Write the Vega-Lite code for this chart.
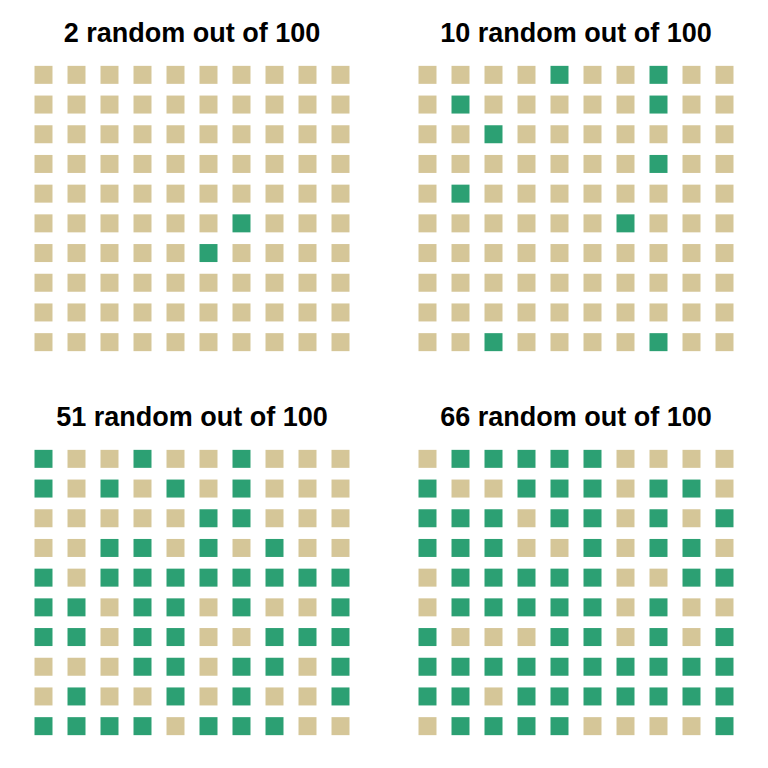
{
  "$schema": "https://vega.github.io/schema/vega-lite/v6.json",
  "padding": {"left": 27, "top": 20, "right": 0, "bottom": 0},
  "background": "white",
  "data": {"values": [
{"n":2,"r":1,"c":1,"s":0},{"n":2,"r":1,"c":2,"s":0},{"n":2,"r":1,"c":3,"s":0},{"n":2,"r":1,"c":4,"s":0},{"n":2,"r":1,"c":5,"s":0},{"n":2,"r":1,"c":6,"s":0},{"n":2,"r":1,"c":7,"s":0},{"n":2,"r":1,"c":8,"s":0},{"n":2,"r":1,"c":9,"s":0},{"n":2,"r":1,"c":10,"s":0},
{"n":2,"r":2,"c":1,"s":0},{"n":2,"r":2,"c":2,"s":0},{"n":2,"r":2,"c":3,"s":0},{"n":2,"r":2,"c":4,"s":0},{"n":2,"r":2,"c":5,"s":0},{"n":2,"r":2,"c":6,"s":0},{"n":2,"r":2,"c":7,"s":0},{"n":2,"r":2,"c":8,"s":0},{"n":2,"r":2,"c":9,"s":0},{"n":2,"r":2,"c":10,"s":0},
{"n":2,"r":3,"c":1,"s":0},{"n":2,"r":3,"c":2,"s":0},{"n":2,"r":3,"c":3,"s":0},{"n":2,"r":3,"c":4,"s":0},{"n":2,"r":3,"c":5,"s":0},{"n":2,"r":3,"c":6,"s":0},{"n":2,"r":3,"c":7,"s":0},{"n":2,"r":3,"c":8,"s":0},{"n":2,"r":3,"c":9,"s":0},{"n":2,"r":3,"c":10,"s":0},
{"n":2,"r":4,"c":1,"s":0},{"n":2,"r":4,"c":2,"s":0},{"n":2,"r":4,"c":3,"s":0},{"n":2,"r":4,"c":4,"s":0},{"n":2,"r":4,"c":5,"s":0},{"n":2,"r":4,"c":6,"s":0},{"n":2,"r":4,"c":7,"s":0},{"n":2,"r":4,"c":8,"s":0},{"n":2,"r":4,"c":9,"s":0},{"n":2,"r":4,"c":10,"s":0},
{"n":2,"r":5,"c":1,"s":0},{"n":2,"r":5,"c":2,"s":0},{"n":2,"r":5,"c":3,"s":0},{"n":2,"r":5,"c":4,"s":0},{"n":2,"r":5,"c":5,"s":0},{"n":2,"r":5,"c":6,"s":0},{"n":2,"r":5,"c":7,"s":0},{"n":2,"r":5,"c":8,"s":0},{"n":2,"r":5,"c":9,"s":0},{"n":2,"r":5,"c":10,"s":0},
{"n":2,"r":6,"c":1,"s":0},{"n":2,"r":6,"c":2,"s":0},{"n":2,"r":6,"c":3,"s":0},{"n":2,"r":6,"c":4,"s":0},{"n":2,"r":6,"c":5,"s":0},{"n":2,"r":6,"c":6,"s":0},{"n":2,"r":6,"c":7,"s":1},{"n":2,"r":6,"c":8,"s":0},{"n":2,"r":6,"c":9,"s":0},{"n":2,"r":6,"c":10,"s":0},
{"n":2,"r":7,"c":1,"s":0},{"n":2,"r":7,"c":2,"s":0},{"n":2,"r":7,"c":3,"s":0},{"n":2,"r":7,"c":4,"s":0},{"n":2,"r":7,"c":5,"s":0},{"n":2,"r":7,"c":6,"s":1},{"n":2,"r":7,"c":7,"s":0},{"n":2,"r":7,"c":8,"s":0},{"n":2,"r":7,"c":9,"s":0},{"n":2,"r":7,"c":10,"s":0},
{"n":2,"r":8,"c":1,"s":0},{"n":2,"r":8,"c":2,"s":0},{"n":2,"r":8,"c":3,"s":0},{"n":2,"r":8,"c":4,"s":0},{"n":2,"r":8,"c":5,"s":0},{"n":2,"r":8,"c":6,"s":0},{"n":2,"r":8,"c":7,"s":0},{"n":2,"r":8,"c":8,"s":0},{"n":2,"r":8,"c":9,"s":0},{"n":2,"r":8,"c":10,"s":0},
{"n":2,"r":9,"c":1,"s":0},{"n":2,"r":9,"c":2,"s":0},{"n":2,"r":9,"c":3,"s":0},{"n":2,"r":9,"c":4,"s":0},{"n":2,"r":9,"c":5,"s":0},{"n":2,"r":9,"c":6,"s":0},{"n":2,"r":9,"c":7,"s":0},{"n":2,"r":9,"c":8,"s":0},{"n":2,"r":9,"c":9,"s":0},{"n":2,"r":9,"c":10,"s":0},
{"n":2,"r":10,"c":1,"s":0},{"n":2,"r":10,"c":2,"s":0},{"n":2,"r":10,"c":3,"s":0},{"n":2,"r":10,"c":4,"s":0},{"n":2,"r":10,"c":5,"s":0},{"n":2,"r":10,"c":6,"s":0},{"n":2,"r":10,"c":7,"s":0},{"n":2,"r":10,"c":8,"s":0},{"n":2,"r":10,"c":9,"s":0},{"n":2,"r":10,"c":10,"s":0},
{"n":10,"r":1,"c":1,"s":0},{"n":10,"r":1,"c":2,"s":0},{"n":10,"r":1,"c":3,"s":0},{"n":10,"r":1,"c":4,"s":0},{"n":10,"r":1,"c":5,"s":1},{"n":10,"r":1,"c":6,"s":0},{"n":10,"r":1,"c":7,"s":0},{"n":10,"r":1,"c":8,"s":1},{"n":10,"r":1,"c":9,"s":0},{"n":10,"r":1,"c":10,"s":0},
{"n":10,"r":2,"c":1,"s":0},{"n":10,"r":2,"c":2,"s":1},{"n":10,"r":2,"c":3,"s":0},{"n":10,"r":2,"c":4,"s":0},{"n":10,"r":2,"c":5,"s":0},{"n":10,"r":2,"c":6,"s":0},{"n":10,"r":2,"c":7,"s":0},{"n":10,"r":2,"c":8,"s":1},{"n":10,"r":2,"c":9,"s":0},{"n":10,"r":2,"c":10,"s":0},
{"n":10,"r":3,"c":1,"s":0},{"n":10,"r":3,"c":2,"s":0},{"n":10,"r":3,"c":3,"s":1},{"n":10,"r":3,"c":4,"s":0},{"n":10,"r":3,"c":5,"s":0},{"n":10,"r":3,"c":6,"s":0},{"n":10,"r":3,"c":7,"s":0},{"n":10,"r":3,"c":8,"s":0},{"n":10,"r":3,"c":9,"s":0},{"n":10,"r":3,"c":10,"s":0},
{"n":10,"r":4,"c":1,"s":0},{"n":10,"r":4,"c":2,"s":0},{"n":10,"r":4,"c":3,"s":0},{"n":10,"r":4,"c":4,"s":0},{"n":10,"r":4,"c":5,"s":0},{"n":10,"r":4,"c":6,"s":0},{"n":10,"r":4,"c":7,"s":0},{"n":10,"r":4,"c":8,"s":1},{"n":10,"r":4,"c":9,"s":0},{"n":10,"r":4,"c":10,"s":0},
{"n":10,"r":5,"c":1,"s":0},{"n":10,"r":5,"c":2,"s":1},{"n":10,"r":5,"c":3,"s":0},{"n":10,"r":5,"c":4,"s":0},{"n":10,"r":5,"c":5,"s":0},{"n":10,"r":5,"c":6,"s":0},{"n":10,"r":5,"c":7,"s":0},{"n":10,"r":5,"c":8,"s":0},{"n":10,"r":5,"c":9,"s":0},{"n":10,"r":5,"c":10,"s":0},
{"n":10,"r":6,"c":1,"s":0},{"n":10,"r":6,"c":2,"s":0},{"n":10,"r":6,"c":3,"s":0},{"n":10,"r":6,"c":4,"s":0},{"n":10,"r":6,"c":5,"s":0},{"n":10,"r":6,"c":6,"s":0},{"n":10,"r":6,"c":7,"s":1},{"n":10,"r":6,"c":8,"s":0},{"n":10,"r":6,"c":9,"s":0},{"n":10,"r":6,"c":10,"s":0},
{"n":10,"r":7,"c":1,"s":0},{"n":10,"r":7,"c":2,"s":0},{"n":10,"r":7,"c":3,"s":0},{"n":10,"r":7,"c":4,"s":0},{"n":10,"r":7,"c":5,"s":0},{"n":10,"r":7,"c":6,"s":0},{"n":10,"r":7,"c":7,"s":0},{"n":10,"r":7,"c":8,"s":0},{"n":10,"r":7,"c":9,"s":0},{"n":10,"r":7,"c":10,"s":0},
{"n":10,"r":8,"c":1,"s":0},{"n":10,"r":8,"c":2,"s":0},{"n":10,"r":8,"c":3,"s":0},{"n":10,"r":8,"c":4,"s":0},{"n":10,"r":8,"c":5,"s":0},{"n":10,"r":8,"c":6,"s":0},{"n":10,"r":8,"c":7,"s":0},{"n":10,"r":8,"c":8,"s":0},{"n":10,"r":8,"c":9,"s":0},{"n":10,"r":8,"c":10,"s":0},
{"n":10,"r":9,"c":1,"s":0},{"n":10,"r":9,"c":2,"s":0},{"n":10,"r":9,"c":3,"s":0},{"n":10,"r":9,"c":4,"s":0},{"n":10,"r":9,"c":5,"s":0},{"n":10,"r":9,"c":6,"s":0},{"n":10,"r":9,"c":7,"s":0},{"n":10,"r":9,"c":8,"s":0},{"n":10,"r":9,"c":9,"s":0},{"n":10,"r":9,"c":10,"s":0},
{"n":10,"r":10,"c":1,"s":0},{"n":10,"r":10,"c":2,"s":0},{"n":10,"r":10,"c":3,"s":1},{"n":10,"r":10,"c":4,"s":0},{"n":10,"r":10,"c":5,"s":0},{"n":10,"r":10,"c":6,"s":0},{"n":10,"r":10,"c":7,"s":0},{"n":10,"r":10,"c":8,"s":1},{"n":10,"r":10,"c":9,"s":0},{"n":10,"r":10,"c":10,"s":0},
{"n":51,"r":1,"c":1,"s":1},{"n":51,"r":1,"c":2,"s":0},{"n":51,"r":1,"c":3,"s":0},{"n":51,"r":1,"c":4,"s":1},{"n":51,"r":1,"c":5,"s":0},{"n":51,"r":1,"c":6,"s":0},{"n":51,"r":1,"c":7,"s":1},{"n":51,"r":1,"c":8,"s":0},{"n":51,"r":1,"c":9,"s":0},{"n":51,"r":1,"c":10,"s":0},
{"n":51,"r":2,"c":1,"s":1},{"n":51,"r":2,"c":2,"s":0},{"n":51,"r":2,"c":3,"s":1},{"n":51,"r":2,"c":4,"s":0},{"n":51,"r":2,"c":5,"s":1},{"n":51,"r":2,"c":6,"s":0},{"n":51,"r":2,"c":7,"s":1},{"n":51,"r":2,"c":8,"s":0},{"n":51,"r":2,"c":9,"s":0},{"n":51,"r":2,"c":10,"s":0},
{"n":51,"r":3,"c":1,"s":0},{"n":51,"r":3,"c":2,"s":0},{"n":51,"r":3,"c":3,"s":0},{"n":51,"r":3,"c":4,"s":0},{"n":51,"r":3,"c":5,"s":0},{"n":51,"r":3,"c":6,"s":1},{"n":51,"r":3,"c":7,"s":1},{"n":51,"r":3,"c":8,"s":0},{"n":51,"r":3,"c":9,"s":0},{"n":51,"r":3,"c":10,"s":0},
{"n":51,"r":4,"c":1,"s":0},{"n":51,"r":4,"c":2,"s":0},{"n":51,"r":4,"c":3,"s":1},{"n":51,"r":4,"c":4,"s":1},{"n":51,"r":4,"c":5,"s":0},{"n":51,"r":4,"c":6,"s":1},{"n":51,"r":4,"c":7,"s":0},{"n":51,"r":4,"c":8,"s":1},{"n":51,"r":4,"c":9,"s":0},{"n":51,"r":4,"c":10,"s":0},
{"n":51,"r":5,"c":1,"s":1},{"n":51,"r":5,"c":2,"s":0},{"n":51,"r":5,"c":3,"s":1},{"n":51,"r":5,"c":4,"s":1},{"n":51,"r":5,"c":5,"s":1},{"n":51,"r":5,"c":6,"s":1},{"n":51,"r":5,"c":7,"s":1},{"n":51,"r":5,"c":8,"s":1},{"n":51,"r":5,"c":9,"s":1},{"n":51,"r":5,"c":10,"s":1},
{"n":51,"r":6,"c":1,"s":1},{"n":51,"r":6,"c":2,"s":1},{"n":51,"r":6,"c":3,"s":0},{"n":51,"r":6,"c":4,"s":1},{"n":51,"r":6,"c":5,"s":1},{"n":51,"r":6,"c":6,"s":0},{"n":51,"r":6,"c":7,"s":1},{"n":51,"r":6,"c":8,"s":0},{"n":51,"r":6,"c":9,"s":0},{"n":51,"r":6,"c":10,"s":1},
{"n":51,"r":7,"c":1,"s":1},{"n":51,"r":7,"c":2,"s":1},{"n":51,"r":7,"c":3,"s":0},{"n":51,"r":7,"c":4,"s":1},{"n":51,"r":7,"c":5,"s":1},{"n":51,"r":7,"c":6,"s":0},{"n":51,"r":7,"c":7,"s":0},{"n":51,"r":7,"c":8,"s":1},{"n":51,"r":7,"c":9,"s":1},{"n":51,"r":7,"c":10,"s":1},
{"n":51,"r":8,"c":1,"s":0},{"n":51,"r":8,"c":2,"s":0},{"n":51,"r":8,"c":3,"s":0},{"n":51,"r":8,"c":4,"s":1},{"n":51,"r":8,"c":5,"s":1},{"n":51,"r":8,"c":6,"s":0},{"n":51,"r":8,"c":7,"s":1},{"n":51,"r":8,"c":8,"s":1},{"n":51,"r":8,"c":9,"s":0},{"n":51,"r":8,"c":10,"s":1},
{"n":51,"r":9,"c":1,"s":0},{"n":51,"r":9,"c":2,"s":1},{"n":51,"r":9,"c":3,"s":0},{"n":51,"r":9,"c":4,"s":0},{"n":51,"r":9,"c":5,"s":1},{"n":51,"r":9,"c":6,"s":0},{"n":51,"r":9,"c":7,"s":1},{"n":51,"r":9,"c":8,"s":0},{"n":51,"r":9,"c":9,"s":0},{"n":51,"r":9,"c":10,"s":1},
{"n":51,"r":10,"c":1,"s":1},{"n":51,"r":10,"c":2,"s":1},{"n":51,"r":10,"c":3,"s":1},{"n":51,"r":10,"c":4,"s":1},{"n":51,"r":10,"c":5,"s":0},{"n":51,"r":10,"c":6,"s":1},{"n":51,"r":10,"c":7,"s":1},{"n":51,"r":10,"c":8,"s":1},{"n":51,"r":10,"c":9,"s":0},{"n":51,"r":10,"c":10,"s":0},
{"n":66,"r":1,"c":1,"s":0},{"n":66,"r":1,"c":2,"s":1},{"n":66,"r":1,"c":3,"s":1},{"n":66,"r":1,"c":4,"s":1},{"n":66,"r":1,"c":5,"s":1},{"n":66,"r":1,"c":6,"s":1},{"n":66,"r":1,"c":7,"s":0},{"n":66,"r":1,"c":8,"s":0},{"n":66,"r":1,"c":9,"s":0},{"n":66,"r":1,"c":10,"s":0},
{"n":66,"r":2,"c":1,"s":1},{"n":66,"r":2,"c":2,"s":0},{"n":66,"r":2,"c":3,"s":0},{"n":66,"r":2,"c":4,"s":1},{"n":66,"r":2,"c":5,"s":1},{"n":66,"r":2,"c":6,"s":1},{"n":66,"r":2,"c":7,"s":0},{"n":66,"r":2,"c":8,"s":1},{"n":66,"r":2,"c":9,"s":1},{"n":66,"r":2,"c":10,"s":0},
{"n":66,"r":3,"c":1,"s":1},{"n":66,"r":3,"c":2,"s":1},{"n":66,"r":3,"c":3,"s":1},{"n":66,"r":3,"c":4,"s":0},{"n":66,"r":3,"c":5,"s":1},{"n":66,"r":3,"c":6,"s":1},{"n":66,"r":3,"c":7,"s":0},{"n":66,"r":3,"c":8,"s":1},{"n":66,"r":3,"c":9,"s":0},{"n":66,"r":3,"c":10,"s":1},
{"n":66,"r":4,"c":1,"s":1},{"n":66,"r":4,"c":2,"s":1},{"n":66,"r":4,"c":3,"s":1},{"n":66,"r":4,"c":4,"s":0},{"n":66,"r":4,"c":5,"s":0},{"n":66,"r":4,"c":6,"s":1},{"n":66,"r":4,"c":7,"s":0},{"n":66,"r":4,"c":8,"s":1},{"n":66,"r":4,"c":9,"s":1},{"n":66,"r":4,"c":10,"s":0},
{"n":66,"r":5,"c":1,"s":0},{"n":66,"r":5,"c":2,"s":1},{"n":66,"r":5,"c":3,"s":1},{"n":66,"r":5,"c":4,"s":1},{"n":66,"r":5,"c":5,"s":1},{"n":66,"r":5,"c":6,"s":1},{"n":66,"r":5,"c":7,"s":0},{"n":66,"r":5,"c":8,"s":0},{"n":66,"r":5,"c":9,"s":1},{"n":66,"r":5,"c":10,"s":1},
{"n":66,"r":6,"c":1,"s":0},{"n":66,"r":6,"c":2,"s":1},{"n":66,"r":6,"c":3,"s":1},{"n":66,"r":6,"c":4,"s":1},{"n":66,"r":6,"c":5,"s":1},{"n":66,"r":6,"c":6,"s":1},{"n":66,"r":6,"c":7,"s":0},{"n":66,"r":6,"c":8,"s":1},{"n":66,"r":6,"c":9,"s":0},{"n":66,"r":6,"c":10,"s":0},
{"n":66,"r":7,"c":1,"s":1},{"n":66,"r":7,"c":2,"s":0},{"n":66,"r":7,"c":3,"s":0},{"n":66,"r":7,"c":4,"s":0},{"n":66,"r":7,"c":5,"s":1},{"n":66,"r":7,"c":6,"s":1},{"n":66,"r":7,"c":7,"s":0},{"n":66,"r":7,"c":8,"s":1},{"n":66,"r":7,"c":9,"s":0},{"n":66,"r":7,"c":10,"s":1},
{"n":66,"r":8,"c":1,"s":1},{"n":66,"r":8,"c":2,"s":1},{"n":66,"r":8,"c":3,"s":1},{"n":66,"r":8,"c":4,"s":1},{"n":66,"r":8,"c":5,"s":1},{"n":66,"r":8,"c":6,"s":1},{"n":66,"r":8,"c":7,"s":1},{"n":66,"r":8,"c":8,"s":1},{"n":66,"r":8,"c":9,"s":1},{"n":66,"r":8,"c":10,"s":1},
{"n":66,"r":9,"c":1,"s":1},{"n":66,"r":9,"c":2,"s":1},{"n":66,"r":9,"c":3,"s":0},{"n":66,"r":9,"c":4,"s":1},{"n":66,"r":9,"c":5,"s":1},{"n":66,"r":9,"c":6,"s":1},{"n":66,"r":9,"c":7,"s":1},{"n":66,"r":9,"c":8,"s":1},{"n":66,"r":9,"c":9,"s":1},{"n":66,"r":9,"c":10,"s":1},
{"n":66,"r":10,"c":1,"s":0},{"n":66,"r":10,"c":2,"s":1},{"n":66,"r":10,"c":3,"s":1},{"n":66,"r":10,"c":4,"s":1},{"n":66,"r":10,"c":5,"s":1},{"n":66,"r":10,"c":6,"s":0},{"n":66,"r":10,"c":7,"s":0},{"n":66,"r":10,"c":8,"s":0},{"n":66,"r":10,"c":9,"s":0},{"n":66,"r":10,"c":10,"s":1}
  ]},
  "facet": {
    "field": "n",
    "type": "ordinal",
    "sort": [2, 10, 51, 66],
    "header": {
      "title": null,
      "labelExpr": "datum.value + ' random out of 100'",
      "labelFont": "Liberation Sans",
      "labelFontSize": 27,
      "labelFontWeight": "bold",
      "labelColor": "black",
      "labelPadding": 12
    }
  },
  "columns": 2,
  "spacing": {"column": 54, "row": 47},
  "spec": {
    "width": 330,
    "height": 297,
    "mark": {"type": "point", "shape": "square", "size": 324, "filled": true, "opacity": 1},
    "encoding": {
      "x": {"field": "c", "type": "quantitative", "scale": {"domain": [0.5, 10.5], "nice": false, "zero": false}, "axis": null},
      "y": {"field": "r", "type": "quantitative", "scale": {"domain": [0.5, 10.5], "nice": false, "zero": false, "reverse": true}, "axis": null},
      "color": {"field": "s", "type": "nominal", "scale": {"domain": [0, 1], "range": ["#d5c698", "#2ca073"]}, "legend": null}
    }
  },
  "config": {"view": {"stroke": null}}
}
